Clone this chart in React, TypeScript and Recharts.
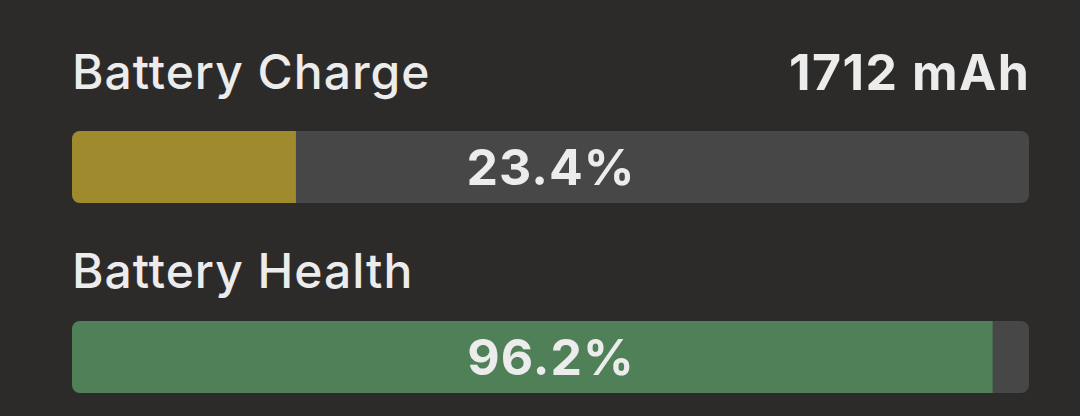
import { Bar, BarChart, LabelList, XAxis, YAxis } from 'recharts'

const metricNames = ['Battery Charge', 'Battery Health']
const metricValues = [23.4, 96.2]
const metricColors = ['#a08a2e', '#4f8058']
const chargeCapacity = '1712 mAh'

const WIDTH = 1080
const TRACK_LEFT = 72
const TRACK_RIGHT = 1029
const TRACK_HEIGHT = 72
const PAD = 4
const trackTops = [131, 321]
const titleTops = [48, 247]

const font = 'Inter, "Noto Sans", sans-serif'

function MeterRow({ index }: { index: number }) {
  const data = [{ name: metricNames[index], value: metricValues[index] }]
  const center = (TRACK_LEFT + TRACK_RIGHT) / 2

  return (
    <div style={{ position: 'absolute', left: 0, top: trackTops[index] - PAD }}>
      <BarChart
        width={WIDTH}
        height={TRACK_HEIGHT + PAD * 2}
        data={data}
        layout="vertical"
        margin={{ top: 0, right: WIDTH - TRACK_RIGHT, bottom: 0, left: TRACK_LEFT }}
        barCategoryGap="0%"
      >
        <XAxis type="number" domain={[0, 100]} hide />
        <YAxis type="category" dataKey="name" hide />
        <Bar
          dataKey="value"
          fill={metricColors[index]}
          barSize={TRACK_HEIGHT}
          radius={[8, 0, 0, 8]}
          background={{ fill: '#474747', radius: 8 }}
          isAnimationActive={false}
        >
          <LabelList
            dataKey="value"
            content={(p: any) => (
              <text
                x={center + 0.5}
                y={Number(p.y) + Number(p.height) / 2 + 18}
                textAnchor="middle"
                fill="#ececec"
                fontFamily={font}
                fontWeight={700}
                fontSize={50}
                letterSpacing={1}
              >
                {`${p.value}%`}
              </text>
            )}
          />
        </Bar>
      </BarChart>
    </div>
  )
}

export default function App() {
  const titleStyle = {
    position: 'absolute' as const,
    fontFamily: font,
    fontSize: 48,
    lineHeight: '48px',
    color: '#ececec',
    whiteSpace: 'nowrap' as const,
    letterSpacing: 1,
  }

  return (
    <div
      style={{
        position: 'relative',
        width: WIDTH,
        height: 416,
        background: '#2c2b2a',
        overflow: 'hidden',
      }}
    >
      <style>{'body{margin:0}'}</style>
      <div style={{ ...titleStyle, left: TRACK_LEFT, top: titleTops[0], fontWeight: 500 }}>
        {metricNames[0]}
      </div>
      <div
        style={{
          ...titleStyle,
          right: WIDTH - TRACK_RIGHT - 1.5,
          top: titleTops[0] - 1,
          fontSize: 50,
          lineHeight: '50px',
          letterSpacing: 1.5,
          fontWeight: 700,
        }}
      >
        {chargeCapacity}
      </div>
      <div style={{ ...titleStyle, left: TRACK_LEFT, top: titleTops[1], fontWeight: 500 }}>
        {metricNames[1]}
      </div>
      <MeterRow index={0} />
      <MeterRow index={1} />
    </div>
  )
}
